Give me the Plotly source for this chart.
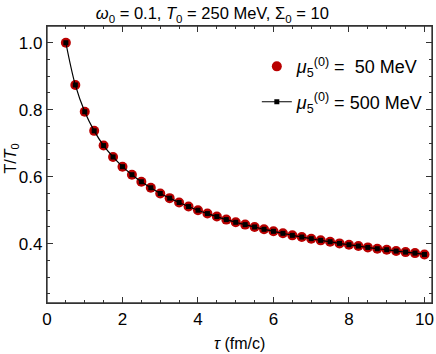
import plotly.graph_objects as go

tau = [0.5, 0.75, 1.0, 1.25, 1.5, 1.75, 2.0, 2.25, 2.5, 2.75, 3.0, 3.25, 3.5, 3.75,
       4.0, 4.25, 4.5, 4.75, 5.0, 5.25, 5.5, 5.75, 6.0, 6.25, 6.5, 6.75, 7.0, 7.25,
       7.5, 7.75, 8.0, 8.25, 8.5, 8.75, 9.0, 9.25, 9.5, 9.75, 10.0]
T_50 = [1.000, 0.874, 0.794, 0.737, 0.693, 0.659, 0.630, 0.606, 0.585, 0.567,
        0.550, 0.536, 0.523, 0.511, 0.500, 0.490, 0.481, 0.472, 0.464, 0.457,
        0.450, 0.443, 0.437, 0.431, 0.425, 0.420, 0.415, 0.410, 0.406, 0.401,
        0.397, 0.393, 0.389, 0.385, 0.382, 0.378, 0.375, 0.372, 0.368]
T_500 = [1.000, 0.874, 0.794, 0.737, 0.693, 0.659, 0.630, 0.606, 0.585, 0.567,
         0.550, 0.536, 0.523, 0.511, 0.500, 0.490, 0.481, 0.472, 0.464, 0.457,
         0.450, 0.443, 0.437, 0.431, 0.425, 0.420, 0.415, 0.410, 0.406, 0.401,
         0.397, 0.393, 0.389, 0.385, 0.382, 0.378, 0.375, 0.372, 0.368]

names = ["<i>μ</i><sub>5</sub><sup>(0)</sup> =  50 MeV",
         "<i>μ</i><sub>5</sub><sup>(0)</sup> = 500 MeV"]

fig = go.Figure()
fig.add_trace(go.Scatter(x=tau, y=T_50, mode="markers", name=names[0], legendgroup="a",
                         marker=dict(color="rgb(185,0,0)", size=10, line=dict(width=0))))
fig.add_trace(go.Scatter(x=tau, y=T_500, mode="lines+markers", name=names[1], legendgroup="b",
                         line=dict(color="black", width=1.2, shape="spline"),
                         marker=dict(color="black", size=5, symbol="square")))

axis_common = dict(showline=True, linecolor="#333", linewidth=1.3, mirror="allticks",
                   ticks="inside", ticklen=6, tickwidth=1, tickcolor="#333",
                   showgrid=False, zeroline=False, automargin=False,
                   tickfont=dict(family="Liberation Sans", size=17, color="black"))

fig.update_layout(
    width=436, height=354,
    margin=dict(l=47, r=4, t=26, b=51),
    paper_bgcolor="white", plot_bgcolor="white",
    font=dict(family="Liberation Sans", color="black"),
    title=dict(text="<i>ω</i><sub>0</sub> = 0.1, <i>T</i><sub>0</sub> = 250 MeV, Σ<sub>0</sub> = 10",
               x=0.487, xanchor="center", y=0.978, yanchor="top",
               font=dict(size=16.5, family="Liberation Sans")),
    xaxis=dict(range=[0, 10.2], tickvals=[0, 2, 4, 6, 8, 10],
               minor=dict(dtick=0.5, ticklen=3, ticks="inside", tickcolor="#333"),
               **axis_common),
    yaxis=dict(range=[0.223, 1.05], tickvals=[0.4, 0.6, 0.8, 1.0], ticktext=["0.4", "0.6", "0.8", "1.0"],
               minor=dict(dtick=0.05, ticklen=3, ticks="inside", tickcolor="#333"),
               **axis_common),
    legend=dict(x=0.545, y=0.92, xanchor="left", yanchor="top", bgcolor="rgba(0,0,0,0)",
                font=dict(size=18, family="Liberation Sans"), tracegroupgap=9),
    showlegend=True,
    shapes=[dict(type="rect", xref="paper", yref="paper", x0=0, x1=1, y0=0, y1=1,
                 line=dict(color="#333", width=1.3), layer="above")],
    annotations=[
        dict(text="<i>τ</i> (fm/c)", xref="paper", yref="paper", x=0.5, y=-0.145,
             xanchor="center", yanchor="middle", showarrow=False, font=dict(size=16)),
        dict(text="T/<i>T</i><sub>0</sub>", xref="paper", yref="paper", x=-0.092, y=0.52,
             xanchor="center", yanchor="middle", textangle=-90, showarrow=False, font=dict(size=16)),
    ],
)

fig.write_html("out.html", config={"displayModeBar": False},
               post_script="document.body.style.margin='0';document.body.style.overflow='hidden';")
